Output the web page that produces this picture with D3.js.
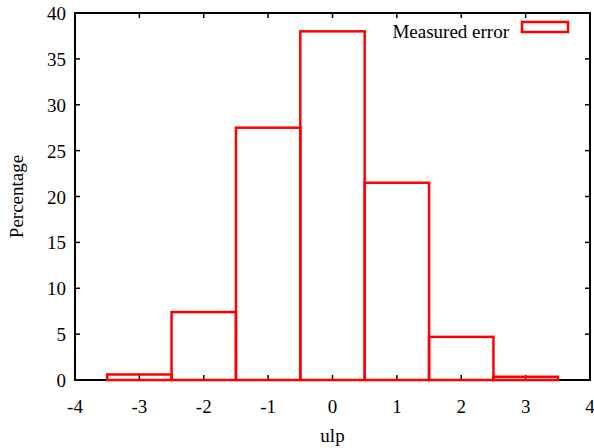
<!DOCTYPE html>
<html>
<head>
<style>
  body { margin: 0; background: #fff; }
  svg text { font-family: 'Liberation Serif', 'DejaVu Serif', serif; fill: #000; }
</style>
<script src="https://cdn.jsdelivr.net/npm/d3@7"></script>
</head>
<body>
<script>
// histogram of measured error, in percent per ulp bin
const bins = [-3, -2, -1, 0, 1, 2, 3];
const percent = [0.6, 7.4, 27.5, 38.0, 21.5, 4.7, 0.35];
const xTicks = [-4, -3, -2, -1, 0, 1, 2, 3, 4];
const yTicks = [0, 5, 10, 15, 20, 25, 30, 35, 40];

const width = 594, height = 448;
const margin = {top: 13, right: 4, bottom: 68, left: 75};
const font = "'Liberation Serif', 'DejaVu Serif', serif";

const svg = d3.select("body").append("svg")
  .attr("width", width)
  .attr("height", height);

const x = d3.scaleLinear().domain([-4, 4]).range([margin.left, width - margin.right]);
const y = d3.scaleLinear().domain([0, 40]).range([height - margin.bottom, margin.top]);

const tick = 5;
const g = svg.append("g");

// frame
g.append("rect")
  .attr("x", x(-4)).attr("y", y(40))
  .attr("width", x(4) - x(-4)).attr("height", y(0) - y(40))
  .attr("fill", "none").attr("stroke", "#000").attr("stroke-width", 2);

// ticks on all sides (mirrored, pointing inward)
xTicks.forEach(t => {
  g.append("line").attr("x1", x(t)).attr("x2", x(t))
    .attr("y1", y(0)).attr("y2", y(0) - tick)
    .attr("stroke", "#000").attr("stroke-width", 1.5);
  g.append("line").attr("x1", x(t)).attr("x2", x(t))
    .attr("y1", y(40)).attr("y2", y(40) + tick)
    .attr("stroke", "#000").attr("stroke-width", 1.5);
  g.append("text").attr("x", x(t)).attr("y", y(0) + 33)
    .attr("font-family", font)
    .attr("text-anchor", "middle").attr("font-size", 19).text(t);
});
yTicks.forEach(t => {
  g.append("line").attr("x1", x(-4)).attr("x2", x(-4) + tick)
    .attr("y1", y(t)).attr("y2", y(t))
    .attr("stroke", "#000").attr("stroke-width", 1.5);
  g.append("line").attr("x1", x(4)).attr("x2", x(4) - tick)
    .attr("y1", y(t)).attr("y2", y(t))
    .attr("stroke", "#000").attr("stroke-width", 1.5);
  g.append("text").attr("x", x(-4) - 9).attr("y", y(t) + 7)
    .attr("font-family", font)
    .attr("text-anchor", "end").attr("font-size", 19).text(t);
});

// bars
g.selectAll(".bar")
  .data(bins.map((b, i) => ({b, v: percent[i]})))
  .enter().append("rect")
  .attr("class", "bar")
  .attr("x", d => x(d.b - 0.5))
  .attr("y", d => y(d.v))
  .attr("width", d => x(d.b + 0.5) - x(d.b - 0.5))
  .attr("height", d => y(0) - y(d.v))
  .attr("fill", "none")
  .attr("stroke", "#ff0000")
  .attr("stroke-width", 2.5);

// axis labels
svg.append("text")
  .attr("x", (x(-4) + x(4)) / 2).attr("y", 442)
  .attr("font-family", font)
  .attr("text-anchor", "middle").attr("font-size", 19).text("ulp");
svg.append("text")
  .attr("transform", `translate(23,${(y(0) + y(40)) / 2}) rotate(-90)`)
  .attr("font-family", font)
  .attr("text-anchor", "middle").attr("font-size", 19).text("Percentage");

// legend
svg.append("text")
  .attr("x", 509).attr("y", 38)
  .attr("font-family", font)
  .attr("text-anchor", "end").attr("font-size", 19).text("Measured error");
svg.append("rect")
  .attr("x", 522).attr("y", 22).attr("width", 46).attr("height", 10)
  .attr("fill", "none").attr("stroke", "#ff0000").attr("stroke-width", 2.5);
</script>
</body>
</html>
